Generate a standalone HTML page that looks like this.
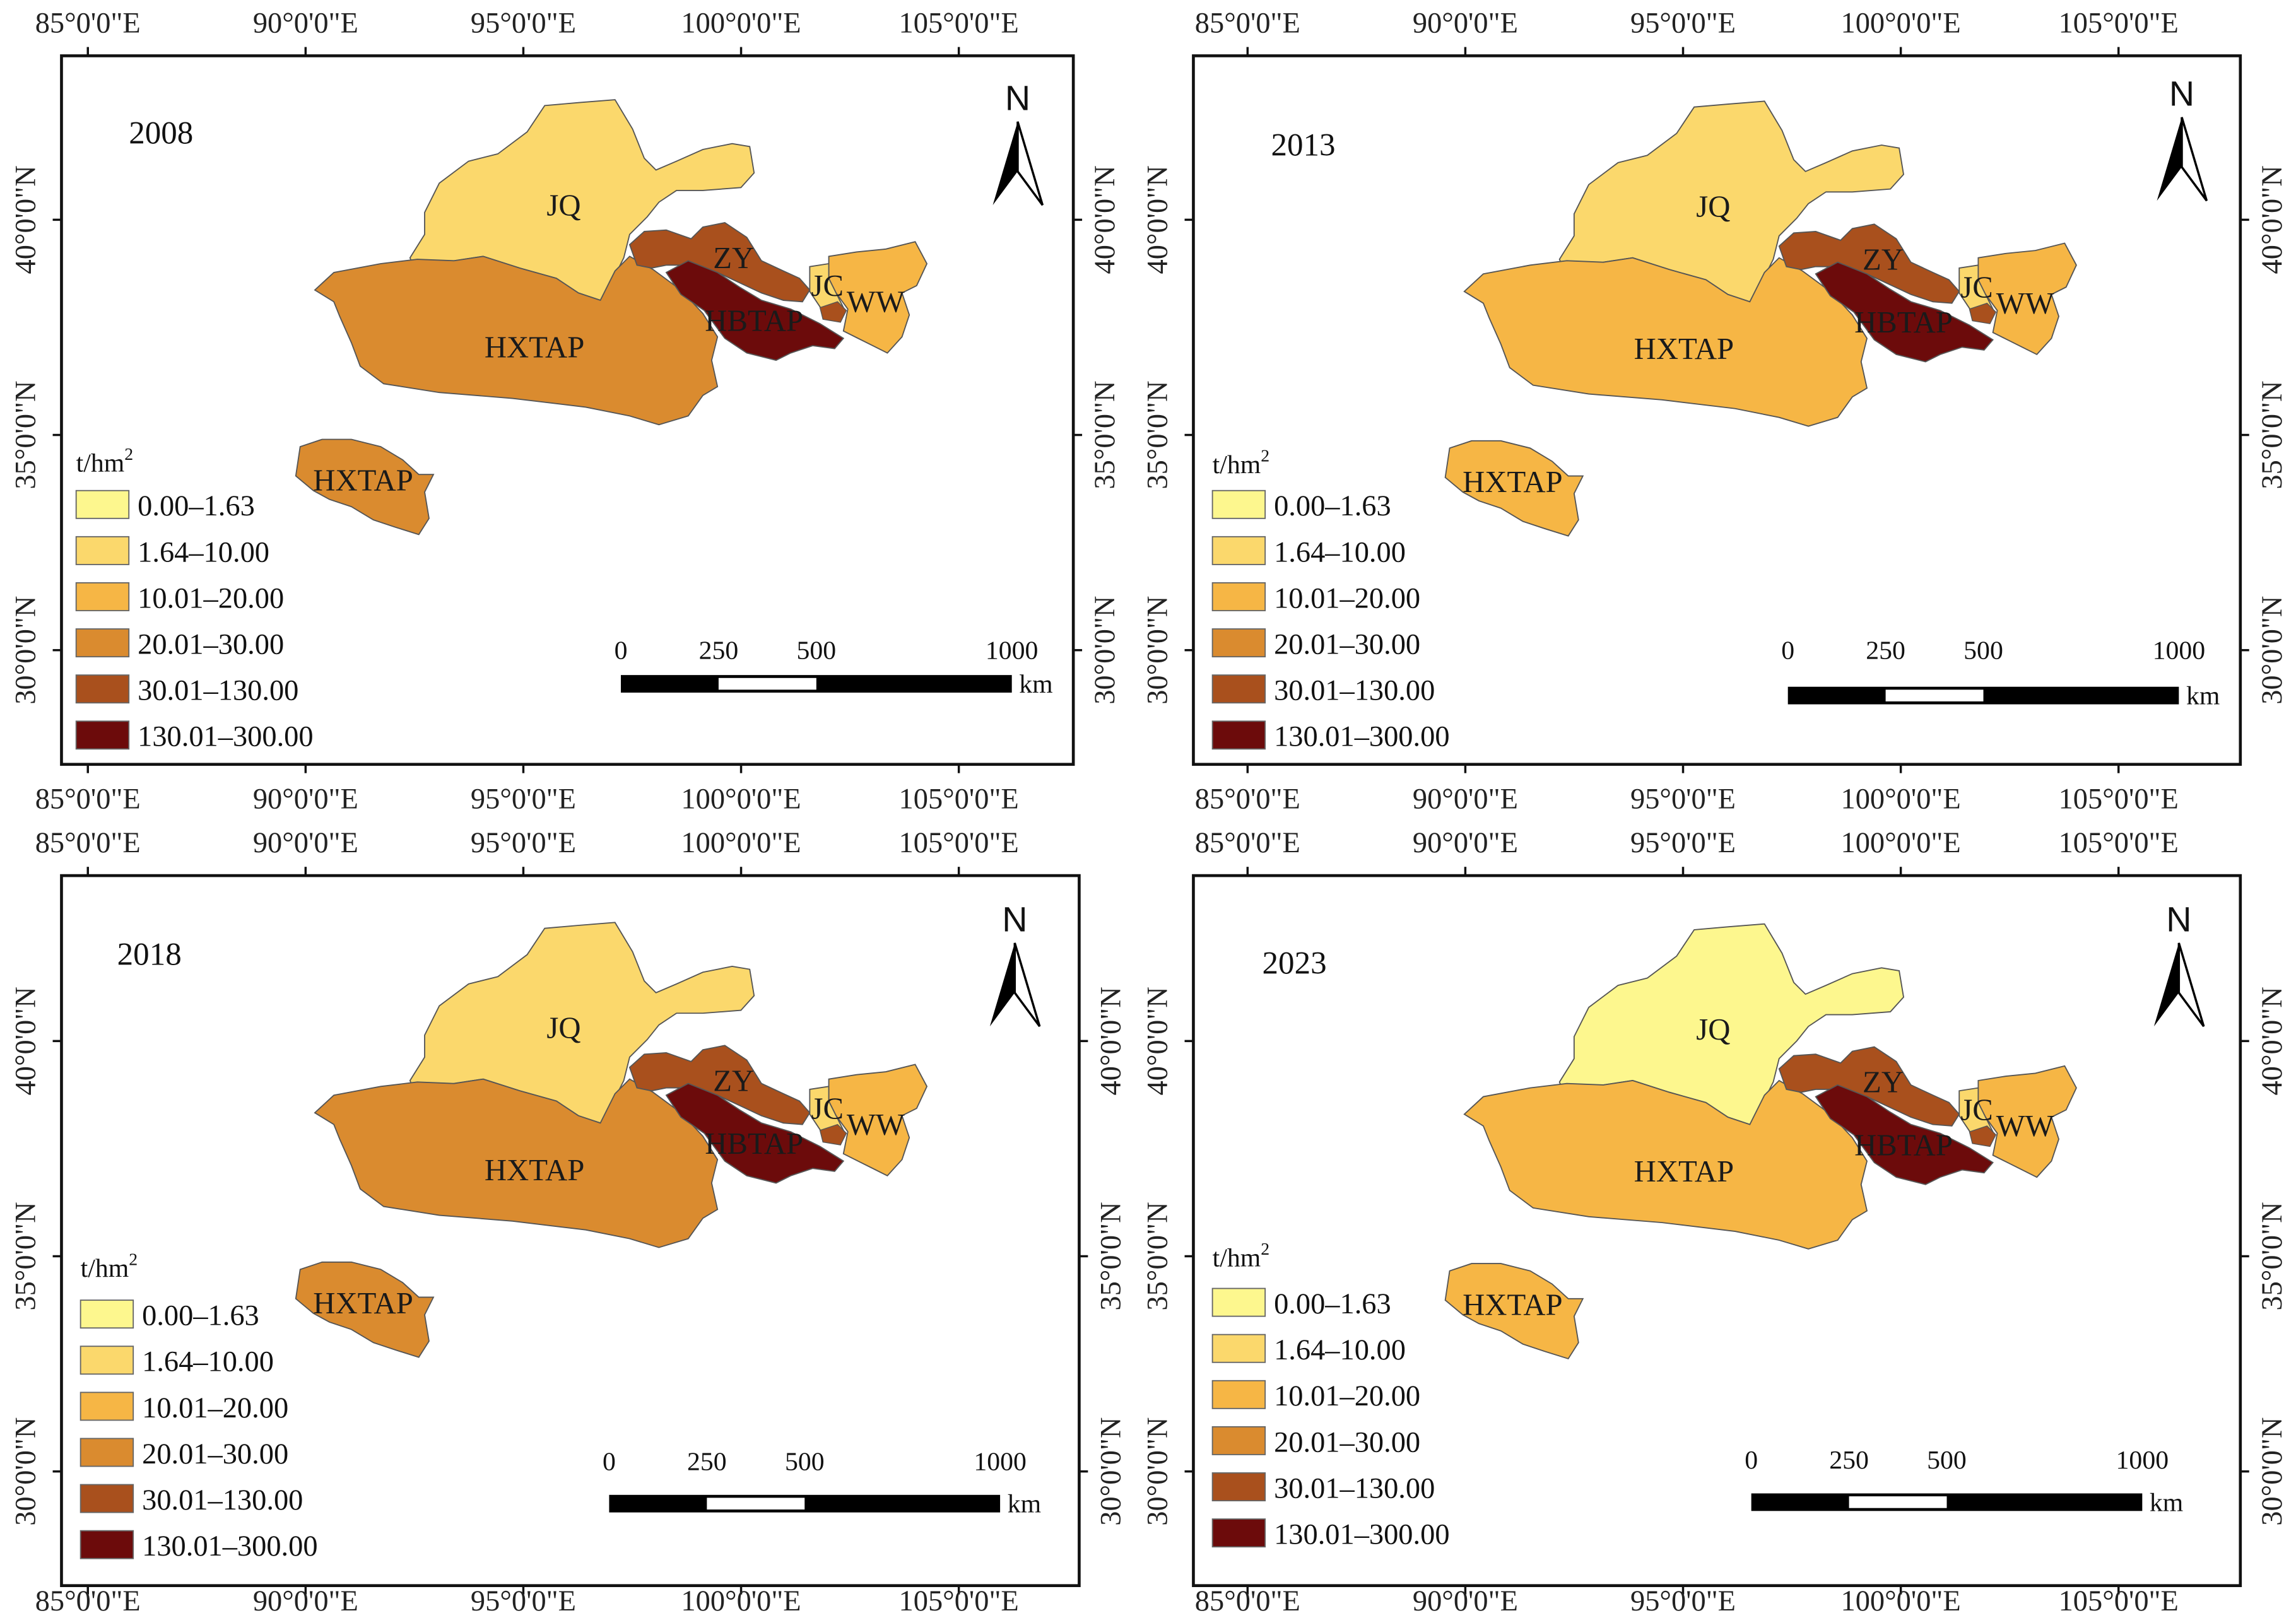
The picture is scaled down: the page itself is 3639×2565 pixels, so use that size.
<!DOCTYPE html>
<html><head><meta charset="utf-8"><style>
html,body{margin:0;padding:0;background:#fff;}
svg{display:block;font-family:"Liberation Serif",serif;}
</style></head><body>
<svg id="fig" xmlns="http://www.w3.org/2000/svg" width="3639" height="2565" viewBox="0 0 1568 1105"></svg>
<script>
const years = ["2008","2013","2018","2023"];
const regionNames = ["JQ","HXTAP","HXTAP2","ZY","HBTAP","JC","WW"];
const classes2008 = [1,3,3,4,5,1,2];
const classes2013 = [1,2,2,4,5,1,2];
const classes2018 = [1,3,3,4,5,1,2];
const classes2023 = [0,2,2,4,5,1,2];
const legendLabels = ["0.00–1.63","1.64–10.00","10.01–20.00","20.01–30.00","30.01–130.00","130.01–300.00"];
const lonLabels = ["85°0'0\"E","90°0'0\"E","95°0'0\"E","100°0'0\"E","105°0'0\"E"];
const latLabels = ["40°0'0\"N","35°0'0\"N","30°0'0\"N"];
const scaleLabels = ["0","250","500","1000"];
const palette = ["#fdf78e","#fbd86c","#f6b645","#da8b2f","#a9501d","#6c0b0b"];
const allClasses = [classes2008,classes2013,classes2018,classes2023];

const NS="http://www.w3.org/2000/svg";
const svg=document.getElementById('fig');
function mk(tag,attrs,parent,text){const e=document.createElementNS(NS,tag);for(const k in attrs)e.setAttribute(k,attrs[k]);if(text!==undefined)e.textContent=text;(parent||svg).appendChild(e);return e;}

const shapes={
JQ:"290,145 300,125 320,110 340,105 360,90 372,72 395,70 420,68 432,88 440,108 448,116 462,110 480,102 500,98 512,100 515,118 506,128 480,130 462,130 450,138 442,148 430,160 426,176 420,188 418,196 410,205 395,200 380,190 355,183 330,175 310,178 285,188 280,176 290,160",
HXTAP:"215,198 228,186 260,180 285,177 310,178 330,175 355,183 380,190 395,200 410,205 420,185 430,175 446,184 465,198 480,214 490,230 486,246 490,264 480,270 470,284 450,290 430,284 400,278 350,272 300,268 262,262 246,250 240,234 232,216 228,206",
HXTAP2:"205,305 220,300 240,300 260,305 275,314 286,324 296,324 290,336 293,354 286,365 270,360 255,355 240,346 225,341 214,335 202,325",
ZY:"430,167 440,158 455,157 472,163 480,155 495,152 510,162 520,178 535,185 546,190 553,198 548,206 535,205 520,200 505,193 490,186 470,181 455,181 445,183 435,181",
HBTAP:"455,186 470,178 490,186 505,196 520,205 540,211 560,221 576,231 570,238 555,236 540,241 530,246 510,241 495,231 481,212 465,201",
JC:"553,182 566,180 571,200 576,210 561,211 553,199",
WW:"566,175 585,172 605,170 625,165 633,180 626,195 616,200 621,215 616,230 606,241 596,236 586,231 576,226 579,211 571,200 566,190"
};
const labelPos={JQ:[385,140],HXTAP:[365,237],HXTAP2:[248,328],ZY:[501,176],HBTAP:[515,219],JC:[565,195],WW:[598,206]};

const panels=[
 {fx:42,fy:38,fw:691,fh:484,dx:0,dy:0,lon0:60,lonTop:15,lonBot:545,lat:[150,297,444],yr:[88,90],leg:[52,315,335],sb:[424,452,461],n:[695,75]},
 {fx:815,fy:38,fw:715,fh:484,dx:785,dy:1,lon0:852,lonTop:15,lonBot:545,lat:[150,297,444],yr:[868,98],leg:[828,316,335],sb:[1221,452,469],n:[1490,72]},
 {fx:42,fy:598,fw:695,fh:485,dx:0,dy:562,lon0:60,lonTop:575,lonBot:1093,lat:[711,858,1005],yr:[80,651],leg:[55,865,888],sb:[416,1006,1021],n:[693,636]},
 {fx:815,fy:598,fw:715,fh:485,dx:785,dy:563,lon0:852,lonTop:575,lonBot:1093,lat:[711,858,1005],yr:[862,657],leg:[828,858,880],sb:[1196,1005,1020],n:[1488,636]}
];

panels.forEach((p,pi)=>{
 const g=mk('g',{},svg);
 
 
 const fr=mk('rect',{x:p.fx,y:p.fy,width:p.fw,height:p.fh,fill:'#fff',stroke:'#111','stroke-width':2},g);
 
 
 lonLabels.forEach((l,i)=>{
  const x=p.lon0+i*148.7;
  mk('line',{x1:x,y1:p.fy-6,x2:x,y2:p.fy,stroke:'#111','stroke-width':1.5},g);
  mk('line',{x1:x,y1:p.fy+p.fh,x2:x,y2:p.fy+p.fh+6,stroke:'#111','stroke-width':1.5},g);
  const t1=mk('text',{x:x,y:p.lonTop+7,'font-size':20,'text-anchor':'middle',fill:'#222'},g,l);
  
  
  const t2=mk('text',{x:x,y:p.lonBot+7,'font-size':20,'text-anchor':'middle',fill:'#222'},g,l);
  
  
 });
 latLabels.forEach((l,i)=>{
  const y=p.lat[i];
  mk('line',{x1:p.fx-6,y1:y,x2:p.fx,y2:y,stroke:'#111','stroke-width':1.5},g);
  mk('line',{x1:p.fx+p.fw,y1:y,x2:p.fx+p.fw+6,y2:y,stroke:'#111','stroke-width':1.5},g);
  const lx=p.fx-18, rx=p.fx+p.fw+28;
  const t1=mk('text',{x:0,y:0,'font-size':20,'text-anchor':'middle',fill:'#222',transform:`translate(${lx},${y}) rotate(-90)`},g,l);
  
  
  const t2=mk('text',{x:0,y:0,'font-size':20,'text-anchor':'middle',fill:'#222',transform:`translate(${rx},${y}) rotate(-90)`},g,l);
  
  
 });
 const cls=allClasses[pi];
 const mg=mk('g',{transform:`translate(${p.dx},${p.dy})`},g);
 regionNames.forEach((r,ri)=>{
  const poly=mk('polygon',{points:shapes[r],fill:palette[cls[ri]],stroke:'#555','stroke-width':0.8},mg);
  
  
 });
 mk('polygon',{points:"560,210 572,206 578,212 574,220 562,218",fill:palette[4],stroke:'#555','stroke-width':0.6},mg);
 regionNames.forEach(r=>{
  const lp=labelPos[r];
  const t=mk('text',{x:lp[0],y:lp[1]+7,'font-size':21,'text-anchor':'middle',fill:'#1a1a1a'},mg,r==='HXTAP2'?'HXTAP':r);
  
  
 });
 const yt=mk('text',{x:p.yr[0],y:p.yr[1]+8,'font-size':22,fill:'#111'},g,years[pi]);
 
 
 const lg=mk('g',{},g);
 
 
 const u=mk('text',{x:p.leg[0],y:p.leg[1]+7,'font-size':18,fill:'#111'},lg);
 u.appendChild(document.createTextNode('t/hm'));
 mk('tspan',{'font-size':12,dy:-8},u,'2');
 legendLabels.forEach((l,i)=>{
  const y=p.leg[2]+i*31.5;
  const b=mk('rect',{x:p.leg[0],y:y,width:36,height:19,fill:palette[i],stroke:'#666','stroke-width':0.8},lg);
  
  
  const t=mk('text',{x:p.leg[0]+42,y:y+17,'font-size':20,fill:'#111'},lg,l);
  
  
 });
 const sg=mk('g',{},g);
 
 
 const sx=p.sb[0], unit=267/1000;
 scaleLabels.forEach(l=>{
  mk('text',{x:sx+parseFloat(l)*unit,y:p.sb[1]-2,'font-size':18,'text-anchor':'middle',fill:'#111'},sg,l);
 });
 mk('rect',{x:sx,y:p.sb[2],width:267,height:12,fill:'#000'},sg);
 mk('rect',{x:sx+250*unit,y:p.sb[2]+2,width:250*unit,height:8,fill:'#fff'},sg);
 mk('text',{x:sx+272,y:p.sb[2]+12,'font-size':18,fill:'#111'},sg,'km');
 const ng=mk('g',{},g);
 
 
 const nx=p.n[0], ny=p.n[1];
 mk('text',{x:nx,y:ny,'font-size':24,'text-anchor':'middle','font-family':'Liberation Sans, sans-serif',fill:'#111'},ng,'N');
 mk('polygon',{points:`${nx},${ny+8} ${nx-17},${ny+65} ${nx},${ny+42}`,fill:'#000'},ng);
 mk('polygon',{points:`${nx},${ny+8} ${nx+17},${ny+65} ${nx},${ny+42}`,fill:'#fff',stroke:'#000','stroke-width':1.5},ng);
});
</script>
</body></html>
